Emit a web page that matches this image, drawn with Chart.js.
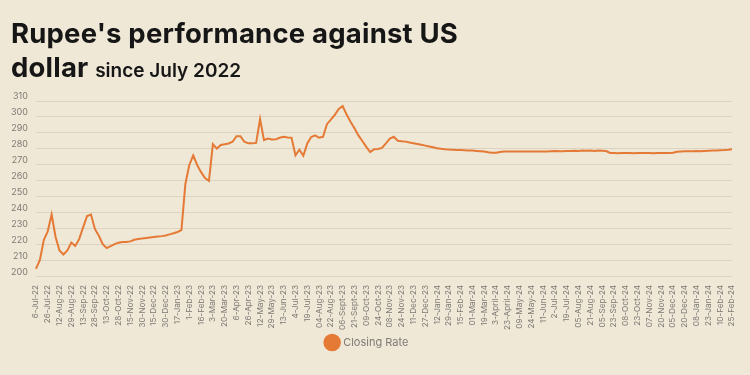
<!DOCTYPE html>
<html>
<head>
<meta charset="utf-8">
<script src="https://cdn.jsdelivr.net/npm/chart.js@4/dist/chart.umd.min.js"></script>
<style>
	html, body { margin: 0; padding: 0; background: #efe8d7; }
	#wrap { position: relative; width: 750px; height: 375px; overflow: hidden; }
	#rateChart { position: absolute; left: 0; top: 0; }
	#title { position: absolute; left: 11px; top: 16px; font-family: Inter, 'Open Sans', sans-serif; font-weight: 700; color: #161616; }
	#title .l1, #title .l2 { font-size: 27.5px; line-height: 34px; letter-spacing: 0.2px; }
	#title .sub { font-size: 19px; font-weight: 600; letter-spacing: 0; }
</style>
</head>
<body>
<div id="wrap">
	<canvas id="rateChart" width="750" height="375"></canvas>
	<div id="title">
		<div class="l1">Rupee's performance against US</div>
		<div class="l2">dollar <span class="sub">since July 2022</span></div>
	</div>
</div>
<script>
const tickLabels = ['6-Jul-22', '26-Jul-22', '12-Aug-22', '29-Aug-22', '13-Sep-22', '28-Sep-22', '13-Oct-22', '28-Oct-22',
	'15-Nov-22', '30-Nov-22', '15-Dec-22', '30-Dec-22', '17-Jan-23', '1-Feb-23', '16-Feb-23', '3-Mar-23', '20-Mar-23',
	'6-Apr-23', '26-Apr-23', '12-May-23', '29-May-23', '13-Jun-23', '4-Jul-23', '19-Jul-23', '04-Aug-23', '22-Aug-23',
	'06-Sept-23', '21-Sept-23', '09-Oct-23', '24-Oct-23', '08-Nov-23', '24-Nov-23', '11-Dec-23', '27-Dec-23', '12-Jan-24',
	'29-Jan-24', '15-Feb-24', '01-Mar-24', '19-Mar-24', '3-April-24', '23-April-24', '09-May-24', '24-May-24', '11-Jun-24',
	'2-Jul-24', '19-Jul-24', '05-Aug-24', '21-Aug-24', '05-Sep-24', '23-Sep-24', '08-Oct-24', '23-Oct-24', '07-Nov-24',
	'20-Nov-24', '05-Dec-24', '20-Dec-24', '08-Jan-24', '23-Jan-24', '10-Feb-24', '25-Feb-24'];

// three readings per tick interval
const closingRate = [
	205, 210.5, 223, 228.5, 239, 225, 216.5, 214, 216.5, 221.5,
	219.3, 223.6, 231, 238, 239, 230, 225.7, 220.5, 218, 219.2,
	220.5, 221.4, 221.8, 221.8, 222.2, 223.2, 223.7, 224, 224.3, 224.6,
	224.9, 225.2, 225.5, 225.9, 226.6, 227.3, 228.1, 229.3, 258, 270,
	276, 270, 265.5, 261.8, 260, 283, 280.2, 282.5, 283, 283.4,
	284.5, 288, 288, 284.5, 283.5, 283.5, 283.8, 298.7, 285.5, 286.5,
	285.9, 286, 287, 287.6, 287.2, 287, 276, 279.5, 275.8, 283.5,
	287.5, 288.5, 287, 287.6, 295.5, 298.3, 301.3, 305, 306.8, 301.5,
	297, 293, 288.5, 285, 281.3, 278, 279.8, 280, 280.7, 283.5,
	286.5, 287.6, 285.1, 284.8, 284.6, 284, 283.6, 283.1, 282.6, 282.1,
	281.6, 281.1, 280.5, 280.1, 279.8, 279.6, 279.5, 279.4, 279.3, 279.2,
	279.1, 279, 278.8, 278.6, 278.4, 278, 277.7, 277.6, 278.1,
	278.4, 278.4, 278.4, 278.4, 278.4, 278.4, 278.4, 278.4, 278.4, 278.4, 278.4, 278.4,
	278.6, 278.7, 278.5, 278.6, 278.8, 278.7, 278.9, 278.8, 279.0, 278.9, 279.0, 278.8, 279.0, 278.9, 278.7,
	277.5, 277.5, 277.4, 277.5, 277.5, 277.5, 277.4, 277.5, 277.5, 277.5, 277.5, 277.4, 277.5, 277.5, 277.5, 277.5, 277.6,
	278.3, 278.4, 278.5, 278.5, 278.6, 278.7, 278.6, 278.8, 278.9, 279.0, 279.1, 279.2, 279.3, 279.5, 279.8
];

const yTicks = { min: 200, max: 310, step: 10 };

const categories = [];
tickLabels.forEach(function(t, i) {
	categories.push(t);
	if (i < tickLabels.length - 1) {
		categories.push('', '');
	}
});

const orange = '#e47a35';
const grey = '#7d7a74';

new Chart(document.getElementById('rateChart').getContext('2d'), {
	type: 'line',
	data: {
		labels: categories,
		datasets: [{
			label: 'Closing Rate',
			data: closingRate,
			borderColor: orange,
			backgroundColor: orange,
			borderWidth: 2,
			pointRadius: 0,
			tension: 0
		}]
	},
	options: {
		responsive: false,
		animation: false,
		layout: { padding: { top: 101, left: 3, right: 18, bottom: 17 } },
		scales: {
			x: {
				grid: { display: false },
				border: { display: false },
				ticks: {
					autoSkip: false,
					minRotation: 90,
					maxRotation: 90,
					padding: 0,
					color: grey,
					font: { family: 'Inter, "Open Sans", sans-serif', size: 8.2 },
					callback: function(v) { return categories[v]; }
				}
			},
			y: {
				min: yTicks.min,
				max: yTicks.max,
				grid: { color: '#dcd4c1', lineWidth: 1, drawTicks: false },
				border: { display: false },
				ticks: {
					stepSize: yTicks.step,
					padding: 8,
					labelOffset: -5,
					color: grey,
					font: { family: 'Inter, "Open Sans", sans-serif', size: 9 }
				}
			}
		},
		plugins: {
			legend: {
				position: 'bottom',
				labels: {
					usePointStyle: true,
					pointStyle: 'circle',
					boxWidth: 12,
					boxHeight: 12,
					padding: 7,
					color: grey,
					font: { family: 'Inter, "Open Sans", sans-serif', size: 11 }
				}
			},
			tooltip: { enabled: false }
		}
	}
});
</script>
</body>
</html>
